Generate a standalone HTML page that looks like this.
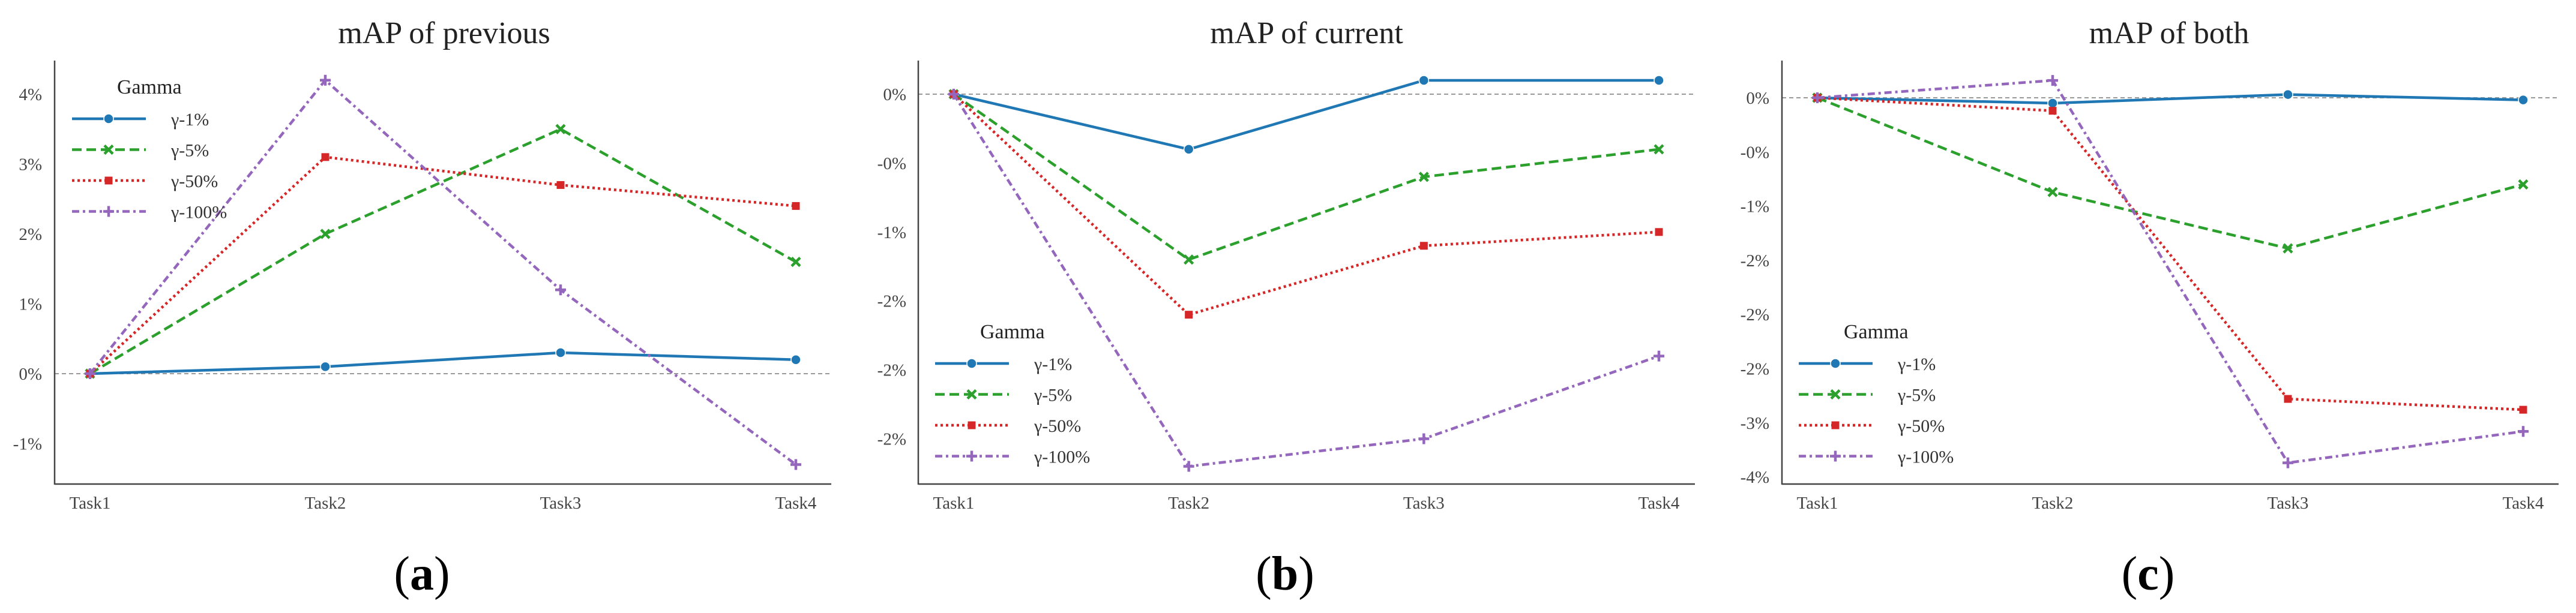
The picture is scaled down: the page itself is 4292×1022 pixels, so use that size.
<!DOCTYPE html>
<html><head><meta charset="utf-8"><style>
html,body{margin:0;padding:0;background:#fff;}
svg{display:block;font-family:"Liberation Serif",serif;}
</style></head><body>
<svg id="fig" width="4292" height="1022" viewBox="0 0 4292 1022" xmlns="http://www.w3.org/2000/svg"></svg>
<script>
const categories = ["Task1","Task2","Task3","Task4"];
const seriesNames = ["γ-1%","γ-5%","γ-50%","γ-100%"];
const prevG1 = [0,0.1,0.3,0.2];
const prevG5 = [0,2.0,3.5,1.6];
const prevG50 = [0,3.1,2.7,2.4];
const prevG100 = [0,4.2,1.2,-1.3];
const curG1 = [0,-0.4,0.1,0.1];
const curG5 = [0,-1.2,-0.6,-0.4];
const curG50 = [0,-1.6,-1.1,-1.0];
const curG100 = [0,-2.7,-2.5,-1.9];
const bothG1 = [0,-0.05,0.03,-0.02];
const bothG5 = [0,-0.87,-1.39,-0.8];
const bothG50 = [0,-0.12,-2.78,-2.88];
const bothG100 = [0,0.16,-3.37,-3.08];
const prevTicks = [4,3,2,1,0,-1];
const prevTickLabels = ["4%","3%","2%","1%","0%","-1%"];
const curTicks = [0,-0.5,-1,-1.5,-2,-2.5];
const curTickLabels = ["0%","-0%","-1%","-2%","-2%","-2%"];
const bothTicks = [0,-0.5,-1,-1.5,-2,-2.5,-3,-3.5];
const bothTickLabels = ["0%","-0%","-1%","-2%","-2%","-2%","-3%","-4%"];

const NS="http://www.w3.org/2000/svg";
const svg=document.getElementById('fig');
const colors=["#1f77b4","#2ca02c","#d62728","#9467bd"];
const dashes=["none","16 8","4 5","12 6 4 6"];
function mk(tag,attrs,parent){const e=document.createElementNS(NS,tag);for(const k in attrs)e.setAttribute(k,attrs[k]);(parent||svg).appendChild(e);return e;}
function marker(g,i,x,y){
  const c=colors[i];let m;
  if(i===0){m=mk('circle',{cx:x,cy:y,r:8,fill:c,stroke:'#fff','stroke-width':1.5},g);}
  else if(i===1){m=mk('path',{d:`M${x-7},${y-7}L${x+7},${y+7}M${x-7},${y+7}L${x+7},${y-7}`,stroke:c,'stroke-width':4.5,fill:'none'},g);}
  else if(i===2){m=mk('rect',{x:x-6.5,y:y-6.5,width:13,height:13,fill:c},g);}
  else {m=mk('path',{d:`M${x-9},${y}L${x+9},${y}M${x},${y-9}L${x},${y+9}`,stroke:c,'stroke-width':4.5,fill:'none'},g);}
  return m;
}
function panel(p){
  const g=mk('g',{});
  
  
  const xs=i=>p.x0+(p.x3-p.x0)*i/(categories.length-1);
  const ys=v=>p.zeroY-v*p.perUnit;
  const t=mk('text',{x:p.titleX,y:72,'font-size':52,'text-anchor':'middle',fill:'#222'},g);t.textContent=p.title;
  
  const zl=mk('line',{x1:p.left,x2:p.right,y1:ys(0),y2:ys(0),stroke:'#999','stroke-width':2,'stroke-dasharray':'7 5'},g);
  
  const ya=mk('line',{x1:p.left,x2:p.left,y1:101,y2:808,stroke:'#444','stroke-width':2.5},g);
  
  const xa=mk('line',{x1:p.left,x2:p.right,y1:807,y2:807,stroke:'#444','stroke-width':2.5},g);
  
  p.ticks.forEach((v,i)=>{const tt=mk('text',{x:p.tickRight,y:ys(v)+10,'font-size':29,'text-anchor':'end',fill:'#444'},g);tt.textContent=p.tickLabels[i];
    });
  categories.forEach((c,i)=>{const tt=mk('text',{x:xs(i),y:848,'font-size':29,'text-anchor':'middle',fill:'#444'},g);tt.textContent=c;
    });
  p.series.forEach((s,si)=>{
    const pts=s.map((v,i)=>xs(i)+','+ys(v)).join(' ');
    const pl=mk('polyline',{points:pts,fill:'none',stroke:colors[si],'stroke-width':4.5,'stroke-dasharray':dashes[si]},g);
    
    s.forEach((v,i)=>{const m=marker(g,si,xs(i),ys(v));});
  });
  const lg=mk('g',{},g);
  
  const gt=mk('text',{x:p.legX+75,y:p.legY+11,'font-size':34,fill:'#222'},lg);gt.textContent='Gamma';
  
  seriesNames.forEach((n,si)=>{
    const y=p.legY+53+si*51.5;
    const ln=mk('line',{x1:p.legX,x2:p.legX+123,y1:y,y2:y,stroke:colors[si],'stroke-width':4.5,'stroke-dasharray':dashes[si]},lg);
    
    marker(lg,si,p.legX+61,y);
    const lt=mk('text',{x:p.legX+165,y:y+11,'font-size':30,fill:'#333'},lg);lt.textContent=n;
    
  });
  const cap=mk('text',{x:p.capX,y:983,'font-size':80,'text-anchor':'middle',fill:'#000'},g);
  const t1=mk('tspan',{},cap);t1.textContent='(';
  const t2=mk('tspan',{'font-weight':'bold'},cap);t2.textContent=p.cap;
  const t3=mk('tspan',{},cap);t3.textContent=')';
  
}
panel({name:'panel-a',title:'mAP of previous',titleX:740,left:91,right:1385,x0:150,x3:1326,zeroY:623,perUnit:116.5,ticks:prevTicks,tickLabels:prevTickLabels,tickRight:70,series:[prevG1,prevG5,prevG50,prevG100],legX:120,legY:145,capX:703,cap:'a'});
panel({name:'panel-b',title:'mAP of current',titleX:2177,left:1530,right:2824,x0:1589,x3:2764,zeroY:157,perUnit:229.8,ticks:curTicks,tickLabels:curTickLabels,tickRight:1510,series:[curG1,curG5,curG50,curG100],legX:1558,legY:553,capX:2141,cap:'b'});
panel({name:'panel-c',title:'mAP of both',titleX:3614,left:2969,right:4263,x0:3028,x3:4204,zeroY:163,perUnit:180.6,ticks:bothTicks,tickLabels:bothTickLabels,tickRight:2948,series:[bothG1,bothG5,bothG50,bothG100],legX:2997,legY:553,capX:3579,cap:'c'});
</script>
</body></html>
